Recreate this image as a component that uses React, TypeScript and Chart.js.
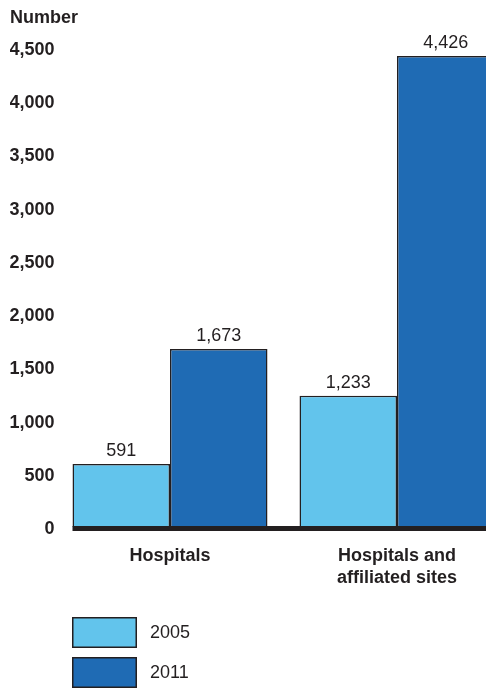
import React, { useEffect, useRef } from "react";
import { Chart, registerables } from "chart.js";

Chart.register(...registerables);

const categories: (string | string[])[] = ["Hospitals", ["Hospitals and", "affiliated sites"]];
const seriesLabels = ["2005", "2011"];
const values2005 = [591, 1233];
const values2011 = [1673, 4426];
const yTicks = [0, 500, 1000, 1500, 2000, 2500, 3000, 3500, 4000, 4500];
const colors = ["#62c4ec", "#1f6bb4"];

const FONT = "'Liberation Sans', Arial, sans-serif";
const INK = "#231f20";

const fmt = (v: number) => v.toLocaleString("en-US");

const valueLabels = {
  id: "valueLabels",
  afterDatasetsDraw(chart: any) {
    const ctx = chart.ctx;
    ctx.save();
    ctx.font = `18px ${FONT}`;
    ctx.fillStyle = INK;
    ctx.textAlign = "center";
    ctx.textBaseline = "middle";
    chart.data.datasets.forEach((ds: any, di: number) => {
      const meta = chart.getDatasetMeta(di);
      meta.data.forEach((bar: any, i: number) => {
        ctx.fillText(fmt(ds.data[i]), bar.x, bar.y - 13);
      });
    });
    ctx.restore();
  },
};

const baseline = {
  id: "baseline",
  afterDatasetsDraw(chart: any) {
    const ctx = chart.ctx;
    const y0 = chart.scales.y.getPixelForValue(0);
    const first = chart.getDatasetMeta(0).data[0];
    const left = first.x - first.width / 2;
    ctx.save();
    ctx.strokeStyle = INK;
    ctx.lineWidth = 5;
    ctx.beginPath();
    ctx.moveTo(left, y0 + 1.5);
    ctx.lineTo(chart.width, y0 + 1.5);
    ctx.stroke();
    ctx.restore();
  },
};

const boxLegend = {
  id: "boxLegend",
  afterDraw(chart: any) {
    const ctx = chart.ctx;
    const left = chart.chartArea.left + 15.5;
    const top0 = chart.scales.x.bottom + 28;
    ctx.save();
    ctx.font = `18px ${FONT}`;
    ctx.textBaseline = "middle";
    ctx.textAlign = "left";
    chart.data.datasets.forEach((ds: any, i: number) => {
      const top = top0 + i * 40;
      ctx.fillStyle = ds.backgroundColor;
      ctx.fillRect(left, top, 65, 31);
      ctx.strokeStyle = INK;
      ctx.lineWidth = 1.5;
      ctx.strokeRect(left + 0.75, top + 0.75, 63.5, 29.5);
      ctx.fillStyle = INK;
      ctx.fillText(ds.label, left + 78, top + 16);
    });
    ctx.restore();
  },
};

export default function App() {
  const ref = useRef<HTMLCanvasElement>(null);
  useEffect(() => {
    if (!ref.current) return;
    const chart = new Chart(ref.current, {
      type: "bar",
      data: {
        labels: categories,
        datasets: [
          {
            label: seriesLabels[0],
            data: values2005,
            backgroundColor: colors[0],
            borderColor: INK,
            borderWidth: 1.5,
            categoryPercentage: 0.859,
            barPercentage: 1,
          },
          {
            label: seriesLabels[1],
            data: values2011,
            backgroundColor: colors[1],
            borderColor: INK,
            borderWidth: 1.5,
            categoryPercentage: 0.859,
            barPercentage: 1,
          },
        ],
      },
      options: {
        responsive: false,
        maintainAspectRatio: false,
        animation: false,
        layout: { padding: { left: 10, right: 1.5, top: 0, bottom: 99 } },
        plugins: {
          legend: { display: false },
          tooltip: { enabled: false },
          title: {
            display: true,
            text: "Number",
            align: "start",
            color: INK,
            font: { family: FONT, size: 18, weight: "bold", lineHeight: 1.2 },
            padding: { top: 7, bottom: 19.4 },
          },
        },
        scales: {
          x: {
            grid: { display: false, drawTicks: false },
            border: { display: false },
            ticks: {
              color: INK,
              font: { family: FONT, size: 18, weight: "bold", lineHeight: "22px" },
              padding: 18,
              maxRotation: 0,
              autoSkip: false,
            },
            afterFit: (s: any) => {
              s.height = 62;
            },
          },
          y: {
            min: 0,
            max: 4500,
            grid: { display: false, drawTicks: false },
            border: { display: false },
            afterBuildTicks: (s: any) => {
              s.ticks = yTicks.map((v) => ({ value: v }));
            },
            afterFit: (s: any) => {
              s.width = 46.5;
            },
            ticks: {
              color: INK,
              font: { family: FONT, size: 18, weight: "bold" },
              padding: 2,
              labelOffset: 2,
              callback: (v: any) => fmt(Number(v)),
            },
          },
        },
      },
      plugins: [baseline, valueLabels, boxLegend],
    });
    return () => chart.destroy();
  }, []);
  return (
    <div
      style={{
        position: "absolute",
        left: 0,
        top: 0,
        width: 486,
        height: 688,
        overflow: "hidden",
        background: "#fff",
      }}
    >
      <canvas ref={ref} width={512} height={688} style={{ display: "block", width: 512, height: 688 }} />
    </div>
  );
}
